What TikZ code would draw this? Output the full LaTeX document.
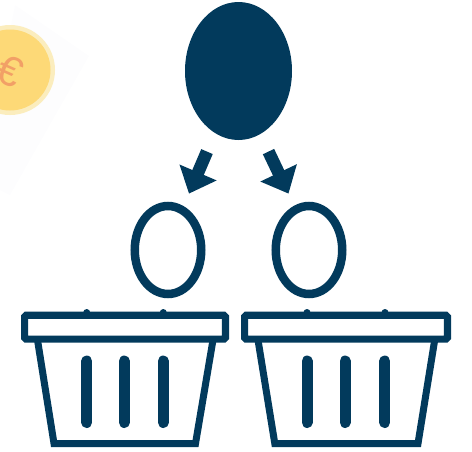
\documentclass[tikz,border=0pt]{standalone}
\usepackage{fontspec}
\setmainfont{Liberation Sans}
\usetikzlibrary{arrows.meta,shapes.geometric}
\definecolor{navy}{HTML}{023A5C}
\definecolor{coinhalo}{HTML}{FBEDBE}
\definecolor{coinfill}{HTML}{FDD977}
\definecolor{coinmark}{HTML}{F2A066}
\definecolor{paleback}{HTML}{FDFDFE}
\tikzset{
  x=1pt,y=-1pt,
  ringnode/.style={ellipse,draw=navy,line width=8.5pt,fill=white,inner sep=0pt,outer sep=0pt,minimum width=66.5pt,minimum height=88pt},
  flowarrow/.style={navy,line width=12.5pt,-{Triangle[length=23pt,width=39pt]}},
  rimbox/.style={draw=navy,line width=7.2pt,fill=white,rounded corners=1.5pt,inner sep=0pt,outer sep=0pt,minimum height=23.8pt},
  basketline/.style={draw=navy,line width=7pt,line join=miter},
  slat/.style={draw=navy,line width=11pt,line cap=round},
}
\begin{document}
\begin{tikzpicture}
\useasboundingbox (0,0) rectangle (472,451);
\clip (0,0) rectangle (472,451);
% coin
\fill[paleback] (15,5) -- (89,56) -- (10,195) -- (-20,180) -- cycle;
\node[circle,fill=coinhalo,minimum size=90pt,inner sep=0pt] (coinouter) at (10,70) {};
\node[circle,fill=coinfill,minimum size=81pt,inner sep=0pt] (coininner) at (10,70) {};
\node[text=coinmark,font=\fontsize{42}{42}\selectfont,rotate=-24,inner sep=0pt] (coinsign) at (10,71) {€};
% top and rings
\node[ellipse,fill=navy,minimum width=107pt,minimum height=138pt,inner sep=0pt,outer sep=0pt] (source) at (238.5,71) {};
\node[ringnode] (ringa) at (168,250) {};
\node[ringnode] (ringb) at (309,250) {};
% arrows
\coordinate (fromA) at (207,151.6);
\coordinate (toA) at (189,193.6);
\coordinate (fromB) at (268.5,151.6);
\coordinate (toB) at (288.5,193.6);
\draw[flowarrow] (fromA) -- (toA);
\draw[flowarrow] (fromB) -- (toB);
% left basket
\fill[navy] (86.7,312.5) circle (3.5pt) (163.3,312.5) circle (3.5pt);
\draw[basketline] (37.5,340) -- (54,443.5) -- (195.5,443.5) -- (213,340);
\node[rimbox,minimum width=200.8pt] (rima) at (125,327.2) {};
\draw[slat] (86.7,361) -- (86.7,422.5);
\draw[slat] (124.3,361) -- (124.3,422.5);
\draw[slat] (163.3,361) -- (163.3,422.5);
% right basket
\fill[navy] (307,312.5) circle (3.5pt) (385,312.5) circle (3.5pt);
\draw[basketline] (258,340) -- (274.8,443.5) -- (418,443.5) -- (434.7,340);
\node[rimbox,minimum width=202.8pt] (rimb) at (346,327.2) {};
\draw[slat] (307,361) -- (307,422.5);
\draw[slat] (345,361) -- (345,422.5);
\draw[slat] (384.7,361) -- (384.7,422.5);
\end{tikzpicture}
\end{document}
